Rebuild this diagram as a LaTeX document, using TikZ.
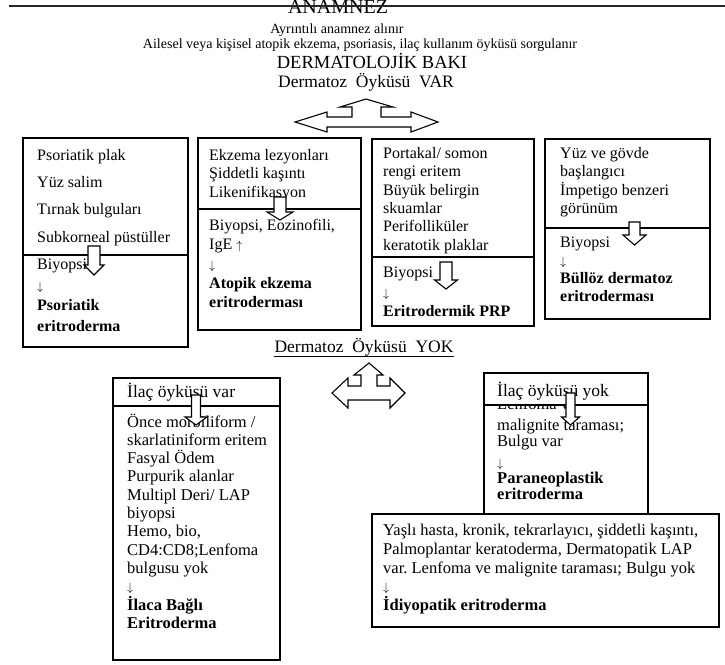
\documentclass[tikz,border=0pt]{standalone}
\usepackage{fontspec}
\setmainfont{Liberation Serif}
\usetikzlibrary{positioning}
\frenchspacing

% down block arrow: x, top, head base, tip, half shaft, half head
\newcommand{\dnarrow}[6]{%
  \draw[blockarrow] (#1-#5,#2) -- (#1+#5,#2) -- (#1+#5,#3) -- (#1+#6,#3)
    -- (#1,#4) -- (#1-#6,#3) -- (#1-#5,#3) -- cycle;}
% thin text arrows
\newcommand{\dn}{{\fontsize{13}{13}\selectfont$\downarrow$}}
\newcommand{\up}{{\fontsize{13}{13}\selectfont$\uparrow$}}

\begin{document}
\begin{tikzpicture}[x=1pt, y=-1pt,
  cell/.style={draw, line width=1.2pt, fill=white, outer sep=0pt, inner sep=0pt},
  txt/.style={anchor=north west, align=left, inner sep=0pt, font=\fontsize{16}{18.4}\selectfont},
  hdr/.style={anchor=base west, inner sep=0pt, font=\fontsize{17.5}{20}\selectfont},
  title/.style={anchor=base, inner sep=0pt},
  blockarrow/.style={draw, line width=1.1pt, fill=white, line join=miter}
]
\useasboundingbox (0,0) rectangle (725,664);

% header
\node[title, font=\fontsize{20}{22}\selectfont] (anam) at (338,13) {ANAMNEZ};
\coordinate (ruleL) at (9,5.5);
\coordinate (ruleR) at (725,5.5);
\draw[line width=2pt, black!85] (ruleL) -- (ruleR);
\node[title, font=\fontsize{14}{16}\selectfont] (ayr) at (337,33) {Ayrıntılı anamnez alınır};
\node[title, font=\fontsize{14}{16}\selectfont] (ail) at (360,48) {Ailesel veya kişisel atopik ekzema, psoriasis, ilaç kullanım öyküsü sorgulanır};
\node[title, font=\fontsize{18.5}{20}\selectfont] (derm) at (372,68) {DERMATOLOJİK BAKI};
\node[title, font=\fontsize{17.5}{20}\selectfont] (var) at (366,87) {Dermatoz~ Öyküsü~ VAR};

% three way arrow (VAR)
\draw[blockarrow] (366,99) -- (393,107) -- (381,107) -- (381,117) -- (411,117) -- (411,112)
  -- (438,122) -- (411,132) -- (411,127) -- (327,127) -- (327,132) -- (295,122)
  -- (327,112) -- (327,117) -- (352,117) -- (352,107) -- (340,107) -- cycle;

% psoriatik
\node[cell, anchor=north west, minimum width=165, minimum height=117] (psoTop) at (23,138) {};
\node[cell, minimum width=165, minimum height=92, below=0pt of psoTop] (psoBot) {};
\node[txt] (psoA) at ([shift={(14,11)}]psoTop.north west) {Psoriatik plak\\[8.9pt] Yüz salim\\[8.9pt] Tırnak bulguları\\[8.9pt] Subkorneal püstüller};
\node[txt, font=\fontsize{16}{20.5}\selectfont] (psoB) at ([shift={(14,4)}]psoBot.north west) {Biyopsi\\ \dn\\ \textbf{Psoriatik}\\ \textbf{eritroderma}};
\dnarrow{94}{246}{265}{275}{6}{10}

% atopik
\node[cell, anchor=north west, minimum width=163, minimum height=71] (atoTop) at (198,138) {};
\node[cell, minimum width=163, minimum height=121, below=0pt of atoTop] (atoBot) {};
\node[txt, font=\fontsize{16}{18.5}\selectfont] (atoA) at ([shift={(11,11)}]atoTop.north west) {Ekzema lezyonları\\ Şiddetli kaşıntı\\ Likenifikasyon};
\node[txt, font=\fontsize{16}{19.3}\selectfont] (atoB) at ([shift={(11,10)}]atoBot.north west) {Biyopsi, Eozinofili,\\ IgE \up\\ \dn\\ \textbf{Atopik ekzema}\\ \textbf{eritroderması}};
\dnarrow{280}{197}{212}{220}{6}{13}

% prp
\node[cell, anchor=north west, minimum width=162, minimum height=118] (prpTop) at (372,139) {};
\node[cell, minimum width=162, minimum height=69, below=0pt of prpTop] (prpBot) {};
\node[txt] (prpA) at ([shift={(11,8)}]prpTop.north west) {Portakal/ somon\\ rengi eritem\\ Büyük belirgin\\ skuamlar\\ Perifolliküler\\ keratotik plaklar};
\node[txt, font=\fontsize{16}{19.5}\selectfont] (prpB) at ([shift={(11,10)}]prpBot.north west) {Biyopsi\\ \dn\\ \textbf{Eritrodermik PRP}};
\dnarrow{446}{262}{280}{289}{6}{11.5}

% bulloz
\node[cell, anchor=north west, minimum width=165, minimum height=89] (bulTop) at (545,139) {};
\node[cell, minimum width=165, minimum height=91, below=0pt of bulTop] (bulBot) {};
\node[txt] (bulA) at ([shift={(15,8)}]bulTop.north west) {Yüz ve gövde\\ başlangıcı\\ İmpetigo benzeri\\ görünüm};
\node[txt, font=\fontsize{16}{18}\selectfont] (bulB) at ([shift={(15,9)}]bulBot.north west) {Biyopsi\\ \dn\\ \textbf{Büllöz dermatoz}\\ \textbf{eritroderması}};
\dnarrow{634.5}{222}{235}{245}{5.5}{11.5}

% YOK
\node[title, font=\fontsize{17.5}{20}\selectfont] (yok) at (364,352.5) {Dermatoz~ Öyküsü~ YOK};
\draw[line width=1.5pt] (yok.south west) -- (yok.south east);

% three way arrow (YOK)
\draw[blockarrow] (369,363) -- (383,375) -- (377,375) -- (377,386) -- (390,386) -- (390,378)
  -- (405,393) -- (390,408) -- (390,400) -- (348,400) -- (348,408) -- (332,393)
  -- (348,378) -- (348,386) -- (361,386) -- (361,375) -- (354,375) -- cycle;

% ilac var
\node[cell, anchor=north west, minimum width=167, minimum height=28] (ilvTop) at (113,378) {};
\node[cell, minimum width=167, minimum height=254, below=0pt of ilvTop] (ilvBot) {};
\node[hdr] (ilvH) at ([shift={(14,19.5)}]ilvTop.north west) {İlaç öyküsü var};
\node[txt, font=\fontsize{16.5}{18.3}\selectfont] (ilvB) at ([shift={(14,7.5)}]ilvBot.north west) {Önce morbiliform /\\ skarlatiniform eritem\\ Fasyal Ödem\\ Purpurik alanlar\\ Multipl Deri/ LAP\\ biyopsi\\ Hemo, bio,\\ CD4:CD8;Lenfoma\\ bulgusu yok\\ \dn\\ \textbf{İlaca Bağlı}\\ \textbf{Eritroderma}};
\dnarrow{196}{395}{417}{425}{4.5}{11}

% ilac yok
\node[cell, anchor=north west, minimum width=164, minimum height=115] (ilyBot) at (484,405) {};
\node[txt, font=\fontsize{16.5}{16}\selectfont] (ilyB) at ([shift={(13,-7.3)}]ilyBot.north west) {Lenfoma ve\\[5pt] malignite taraması;\\ Bulgu var\\[5pt] \dn\\ \textbf{Paraneoplastik}\\ \textbf{eritroderma}};
\node[cell, minimum width=164, minimum height=32, above=0pt of ilyBot] (ilyTop) {};
\node[hdr] (ilyH) at ([shift={(13,23)}]ilyTop.north west) {İlaç öyküsü yok};
\dnarrow{570.5}{393}{417}{425}{4.5}{9}

% idiyopatik
\node[cell, anchor=north west, minimum width=347, minimum height=113] (idiBox) at (372,514) {};
\node[txt, font=\fontsize{16.5}{18.7}\selectfont] (idiA) at ([shift={(11,10)}]idiBox.north west) {Yaşlı hasta, kronik, tekrarlayıcı, şiddetli kaşıntı,\\ Palmoplantar keratoderma, Dermatopatik LAP\\ var. Lenfoma ve malignite taraması; Bulgu yok\\ \dn\\ \textbf{İdiyopatik eritroderma}};
\end{tikzpicture}
\end{document}
